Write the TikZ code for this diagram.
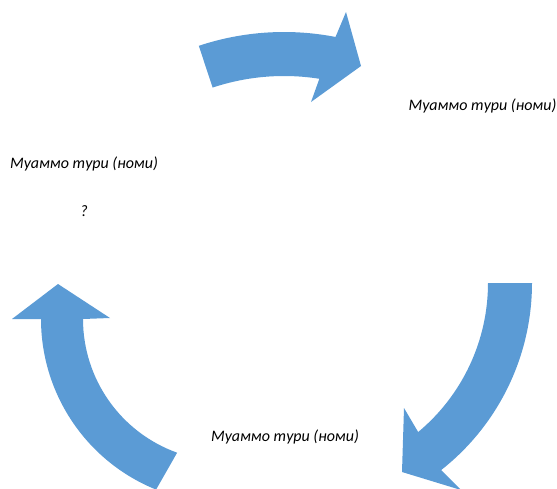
\documentclass[tikz,border=0pt]{standalone}
\usepackage{fontspec}
\setmainfont{Carlito}
\usetikzlibrary{calc}
\definecolor{arrowblue}{RGB}{91,155,213}
\tikzset{
  blockarrow/.style={fill=arrowblue, draw=none},
  lbl/.style={font=\fontsize{16}{19}\selectfont\itshape, inner sep=0pt, anchor=base, text=black}
}
\begin{document}
\begin{tikzpicture}[x=1pt,y=-1pt]
\useasboundingbox (0,0) rectangle (557,488);
\clip (0,0) rectangle (557,488);
\coordinate (C1) at (284,302);
\coordinate (C2) at (294,283);
\coordinate (C3) at (225,319);
% top arrow
\fill[blockarrow] ($(C1)+(-108.4:270)$) arc[start angle=-108.4,end angle=-79,radius=270]
  -- (346,12) -- (361,66) -- (311,102) -- ($(C1)+(-81:226)$)
  arc[start angle=-81,end angle=-108.4,radius=226] -- cycle;
% right arrow
\fill[blockarrow] ($(C2)+(0:238)$) arc[start angle=0,end angle=51.8,radius=238]
  -- (461,490) -- (402,472) -- (404,408) -- ($(C2)+(50.2:194)$)
  arc[start angle=50.2,end angle=0,radius=194] -- cycle;
% left arrow
\fill[blockarrow] ($(C3)+(109.7:142)$) arc[start angle=109.7,end angle=180,radius=142]
  -- (110,318) -- (58,284) -- (12,319) -- ($(C3)+(180:184)$)
  arc[start angle=180,end angle=112,radius=184] -- cycle;
% labels
\node[lbl] (t1) at (482.5,110) {Муаммо тури (номи)};
\node[lbl] (t2) at (84,168) {Муаммо тури (номи)};
\node[lbl] (q) at (84,216) {?};
\node[lbl] (t3) at (285,441.5) {Муаммо тури (номи)};
\end{tikzpicture}
\end{document}
